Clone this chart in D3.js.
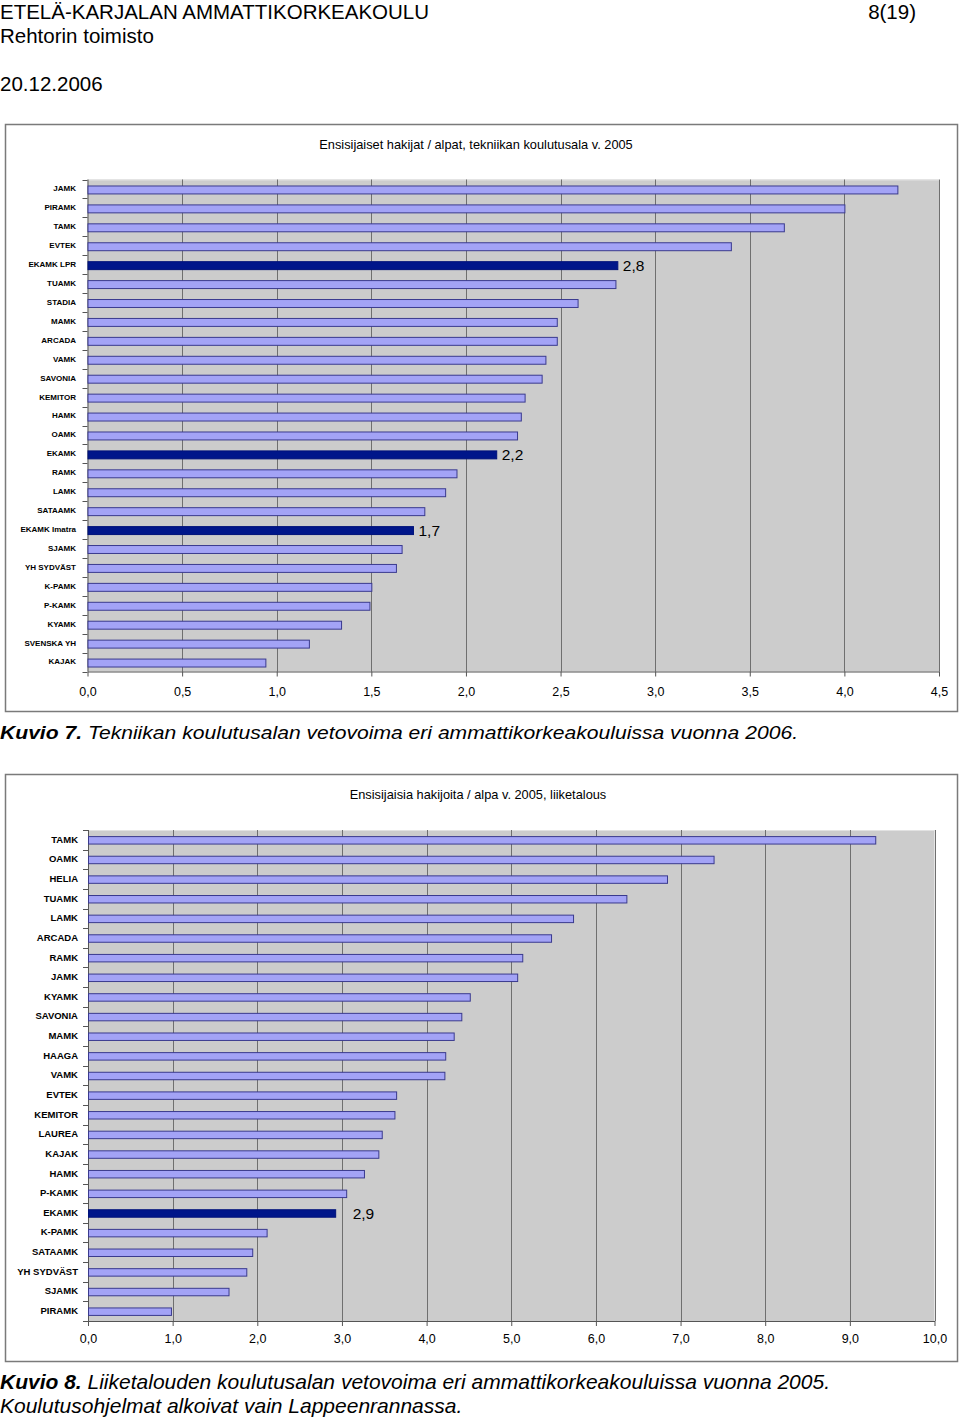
<!DOCTYPE html>
<html><head><meta charset="utf-8">
<script src="https://cdn.jsdelivr.net/npm/d3@7"></script>
<style>body{margin:0;background:#fff}svg{display:block;font-family:Arial,"Liberation Sans",sans-serif}</style>
</head><body>
<svg id="c" width="960" height="1421"></svg>
<script>
// ---- Data: chart 1 (tekniikka) ----
const cats1 = ["JAMK","PIRAMK","TAMK","EVTEK","EKAMK LPR","TUAMK","STADIA","MAMK","ARCADA","VAMK","SAVONIA","KEMITOR","HAMK","OAMK","EKAMK","RAMK","LAMK","SATAAMK","EKAMK Imatra","SJAMK","YH SYDVÄST","K-PAMK","P-KAMK","KYAMK","SVENSKA YH","KAJAK"];
const vals1 = [4.28,4.00,3.68,3.40,2.80,2.79,2.59,2.48,2.48,2.42,2.40,2.31,2.29,2.27,2.16,1.95,1.89,1.78,1.72,1.66,1.63,1.50,1.49,1.34,1.17,0.94];
const highlight1 = ["EKAMK LPR","EKAMK","EKAMK Imatra"];
const labels1 = {"EKAMK LPR":"2,8","EKAMK":"2,2","EKAMK Imatra":"1,7"};
const ticks1 = [0,0.5,1,1.5,2,2.5,3,3.5,4,4.5];
const title1 = "Ensisijaiset hakijat / alpat, tekniikan koulutusala v. 2005";

// ---- Data: chart 2 (liiketalous) ----
const cats2 = ["TAMK","OAMK","HELIA","TUAMK","LAMK","ARCADA","RAMK","JAMK","KYAMK","SAVONIA","MAMK","HAAGA","VAMK","EVTEK","KEMITOR","LAUREA","KAJAK","HAMK","P-KAMK","EKAMK","K-PAMK","SATAAMK","YH SYDVÄST","SJAMK","PIRAMK"];
const vals2 = [9.30,7.39,6.84,6.36,5.73,5.47,5.13,5.07,4.51,4.41,4.32,4.22,4.21,3.64,3.62,3.47,3.43,3.26,3.05,2.92,2.11,1.94,1.87,1.66,0.98];
const highlight2 = ["EKAMK"];
const labels2 = {"EKAMK":"2,9"};
const ticks2 = [0,1,2,3,4,5,6,7,8,9,10];
const title2 = "Ensisijaisia hakijoita / alpa v. 2005, liiketalous";

const fmt = v => d3.format(".1f")(v).replace(".", ",");
const svg = d3.select("#c");

// Header
svg.append("text").attr("x",0).attr("y",19).attr("font-size",20.5).text("ETELÄ-KARJALAN AMMATTIKORKEAKOULU");
svg.append("text").attr("x",916).attr("y",19).attr("font-size",20.5).attr("text-anchor","end").text("8(19)");
svg.append("text").attr("x",0).attr("y",43).attr("font-size",20.5).text("Rehtorin toimisto");
svg.append("text").attr("x",0).attr("y",91).attr("font-size",20.5).text("20.12.2006");

function chart(o){
  const g = svg.append("g");
  g.append("rect").attr("x",o.box[0]+0.5).attr("y",o.box[1]+0.5).attr("width",o.box[2]).attr("height",o.box[3])
    .attr("fill","#fff").attr("stroke","#7a7a7a").attr("stroke-width",1.5);
  g.append("text").attr("x",o.titleX).attr("y",o.titleY).attr("text-anchor","middle").attr("font-size",12.8).text(o.title);
  const x = d3.scaleLinear().domain([0, o.ticks[o.ticks.length-1]]).range([o.x0, o.x1]);
  const y = d3.scaleBand().domain(o.cats).range([o.y0, o.y1]).paddingInner(0).paddingOuter(0);
  g.append("rect").attr("x",o.x0).attr("y",o.y0).attr("width",o.x1-o.x0).attr("height",o.y1-o.y0).attr("fill","#cccccc");
  g.append("line").attr("x1",o.x0).attr("x2",o.x1).attr("y1",o.y0+0.5).attr("y2",o.y0+0.5).attr("stroke","#e2e2e2");
  // gridlines
  g.append("g").selectAll("line").data(o.ticks.slice(1)).join("line")
    .attr("x1",d=>Math.round(x(d))+0.5).attr("x2",d=>Math.round(x(d))+0.5)
    .attr("y1",o.y0).attr("y2",o.y1).attr("stroke","#6f6f6f").attr("stroke-width",1);
  // x axis
  const xa = g.append("g").attr("transform",`translate(0,${o.y1})`)
    .call(d3.axisBottom(x).tickValues(o.ticks).tickFormat(fmt).tickSize(5).tickSizeOuter(0));
  xa.select(".domain").attr("stroke","#555");
  xa.selectAll(".tick line").attr("stroke","#555");
  xa.selectAll(".tick text").attr("font-size",12.5).attr("font-family","Arial, 'Liberation Sans', sans-serif").attr("fill","#000").attr("dy",0).attr("y",o.xLabelDy);
  // y axis
  const ya = g.append("g").attr("transform",`translate(${o.x0},0)`);
  ya.append("line").attr("x1",0.5).attr("x2",0.5).attr("y1",o.y0).attr("y2",o.y1).attr("stroke","#555");
  const bounds = o.cats.map(c=>y(c)).concat([o.y1]);
  ya.selectAll("line.t").data(bounds).join("line").attr("class","t")
    .attr("x1",-5).attr("x2",0).attr("y1",d=>Math.round(d)+0.5).attr("y2",d=>Math.round(d)+0.5).attr("stroke","#555");
  g.append("g").selectAll("text").data(o.cats).join("text")
    .attr("x",o.labelX).attr("y",c=>y(c)+y.bandwidth()/2+o.labelFs*0.3)
    .attr("text-anchor","end").attr("font-size",o.labelFs).attr("font-weight","bold").text(c=>c);
  // bars
  const bh = y.bandwidth()*o.barFrac;
  const data = o.cats.map((c,i)=>({c, v:o.vals[i]}));
  g.append("g").selectAll("rect").data(data).join("rect")
    .attr("x",x(0)+0.5).attr("y",d=>y(d.c)+y.bandwidth()/2-bh/2+o.barShift)
    .attr("width",d=>x(d.v)-x(0)).attr("height",bh)
    .attr("fill",d=>o.hl.includes(d.c)?"#00168a":"#a3a3f6")
    .attr("stroke",d=>o.hl.includes(d.c)?"#00127a":"#3a3a8e").attr("stroke-width",1);
  g.append("g").selectAll("text").data(data.filter(d=>o.lbl[d.c])).join("text")
    .attr("x",d=>x(d.v)+o.lblOff).attr("y",d=>y(d.c)+y.bandwidth()/2+o.barShift+5.5)
    .attr("font-size",15.5).text(d=>o.lbl[d.c]);
}

chart({box:[5,124,952,587], title:title1, titleX:476, titleY:149, cats:cats1, vals:vals1, hl:highlight1, lbl:labels1,
  ticks:ticks1, x0:87.5, x1:939, y0:179.5, y1:671.5, labelX:76, labelFs:8, barFrac:0.42, barShift:1, lblOff:5.5, xLabelDy:24});
chart({box:[5,774,952,587], title:title2, titleX:478, titleY:799, cats:cats2, vals:vals2, hl:highlight2, lbl:labels2,
  ticks:ticks2, x0:88, x1:934.5, y0:830, y1:1321, labelX:78, labelFs:9.5, barFrac:0.38, barShift:0.5, lblOff:17.5, xLabelDy:22});

// Captions
const c7 = svg.append("text").attr("x",0).attr("y",739).attr("font-size",19).attr("font-style","italic")
  .attr("textLength",798).attr("lengthAdjust","spacingAndGlyphs");
c7.append("tspan").attr("font-weight","bold").text("Kuvio 7.");
c7.append("tspan").text(" Tekniikan koulutusalan vetovoima eri ammattikorkeakouluissa vuonna 2006.");
const c8 = svg.append("text").attr("x",0).attr("y",1389).attr("font-size",21).attr("font-style","italic");
c8.append("tspan").attr("font-weight","bold").text("Kuvio 8.");
c8.append("tspan").text(" Liiketalouden koulutusalan vetovoima eri ammattikorkeakouluissa vuonna 2005.");
svg.append("text").attr("x",0).attr("y",1413).attr("font-size",21).attr("font-style","italic")
  .text("Koulutusohjelmat alkoivat vain Lappeenrannassa.");
</script>
</body></html>
